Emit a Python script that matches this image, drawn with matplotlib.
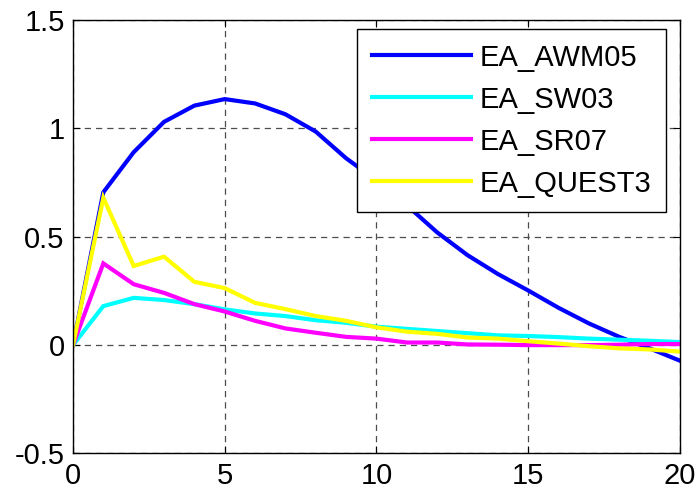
import numpy as np
import matplotlib.pyplot as plt

# Impulse responses, horizons 0..20
horizon = np.arange(21)
ea_awm05 = [0.0, 0.705, 0.89, 1.03, 1.105, 1.135, 1.115, 1.065, 0.985, 0.862, 0.76,
            0.645, 0.52, 0.415, 0.328, 0.252, 0.172, 0.10, 0.038, -0.015, -0.072]
ea_sw03 = [0.0, 0.18, 0.218, 0.208, 0.189, 0.165, 0.146, 0.134, 0.115, 0.103, 0.085,
           0.075, 0.065, 0.055, 0.045, 0.042, 0.037, 0.03, 0.025, 0.02, 0.014]
ea_sr07 = [0.0, 0.377, 0.281, 0.241, 0.189, 0.155, 0.112, 0.077, 0.057, 0.038, 0.03,
           0.012, 0.012, 0.003, 0.002, 0.0, 0.0, 0.0, 0.002, 0.005, 0.005]
ea_quest3 = [0.0, 0.68, 0.365, 0.408, 0.292, 0.263, 0.195, 0.166, 0.134, 0.112, 0.082,
             0.062, 0.052, 0.035, 0.03, 0.018, 0.007, -0.005, -0.015, -0.02, -0.03]

series = [("EA_AWM05", ea_awm05, "#0000ff"),
          ("EA_SW03", ea_sw03, "#00ffff"),
          ("EA_SR07", ea_sr07, "#ff00ff"),
          ("EA_QUEST3", ea_quest3, "#ffff00")]

plt.rcParams["font.family"] = ["Liberation Sans", "DejaVu Sans"]

fig = plt.figure(figsize=(6.99, 4.96), dpi=100)
ax = fig.add_axes([0.1044, 0.0857, 0.8684, 0.874])

for name, vals, col in series:
    ax.plot(horizon, vals, color=col, lw=3, label=name, solid_joinstyle="miter")

ax.set_xlim(0, 20)
ax.set_ylim(-0.5, 1.5)
ax.set_xticks([0, 5, 10, 15, 20])
ax.set_yticks([-0.5, 0, 0.5, 1, 1.5])
ax.set_yticklabels(["-0.5", "0", "0.5", "1", "1.5"])
ax.tick_params(direction="in", top=True, right=True, length=5, width=0.8,
               labelsize=21, pad=6)
ax.grid(True, color="0.3", linestyle=(0, (5, 4)), linewidth=0.9)
for sp in ax.spines.values():
    sp.set_linewidth(1.0)

leg = ax.legend(loc="upper right", bbox_to_anchor=(0.977, 0.979), fontsize=21,
                handlelength=3.4, handletextpad=0.3, labelspacing=0.48,
                borderpad=0.5, borderaxespad=0, fancybox=False, framealpha=1)
leg.get_frame().set_edgecolor("black")
leg.get_frame().set_linewidth(1.0)

fig.savefig("out.png", dpi=100)
